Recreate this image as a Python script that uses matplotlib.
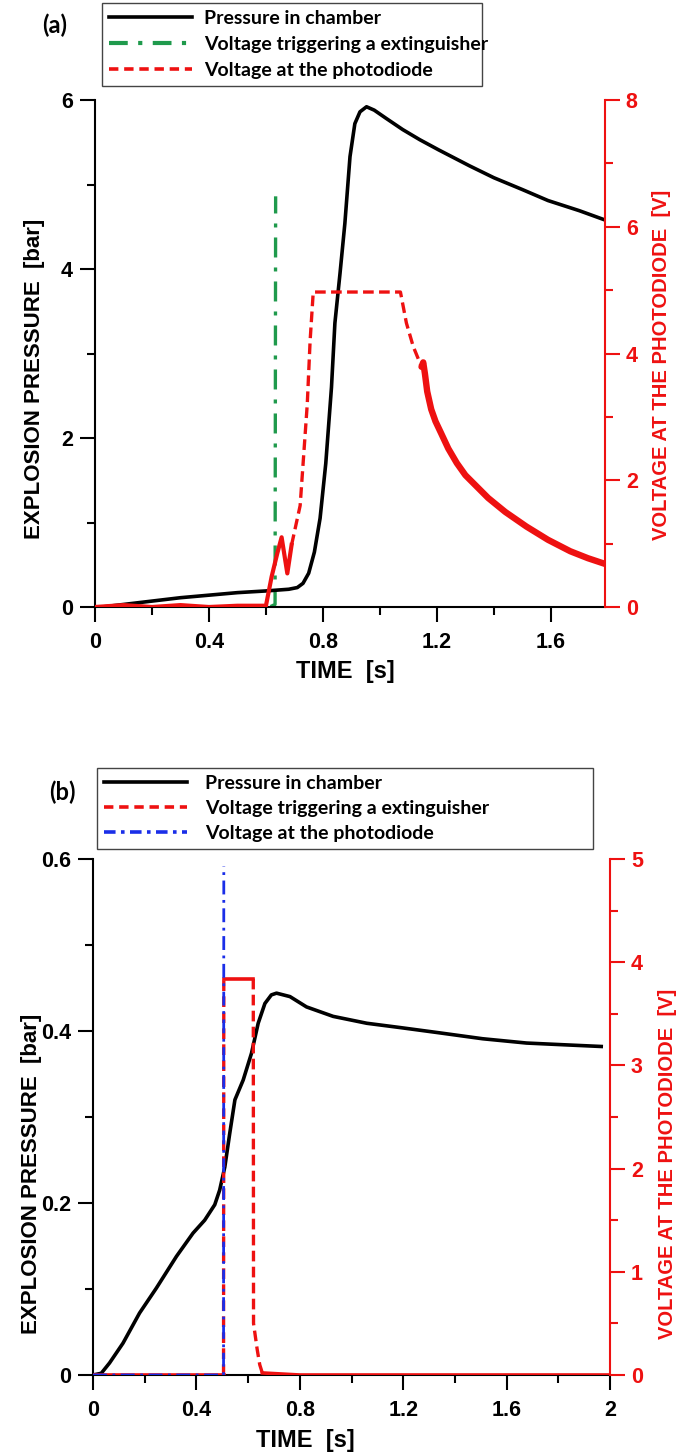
import matplotlib
matplotlib.use("Agg")
import matplotlib.pyplot as plt
from matplotlib.lines import Line2D
from matplotlib.ticker import MultipleLocator, FuncFormatter
from matplotlib import font_manager
import numpy as np

# ---------------- data (a) ----------------
t_press_a = [0, 0.1, 0.2, 0.3, 0.4, 0.5, 0.6, 0.68, 0.71, 0.73, 0.75, 0.77, 0.79, 0.81,
             0.83, 0.842, 0.86, 0.877, 0.895, 0.912, 0.93, 0.953, 0.98, 1.023, 1.08,
             1.14, 1.206, 1.315, 1.4, 1.5, 1.59, 1.7, 1.79]
p_press_a = [-0.01, 0.03, 0.07, 0.11, 0.14, 0.17, 0.19, 0.21, 0.23, 0.28, 0.4, 0.65, 1.05,
             1.7, 2.6, 3.36, 3.95, 4.54, 5.33, 5.72, 5.86, 5.92, 5.88, 5.78, 5.65,
             5.53, 5.41, 5.22, 5.08, 4.94, 4.81, 4.69, 4.58]

t_trig_a = [0, 0.2, 0.4, 0.6, 0.632, 0.634]
v_trig_a = [-0.04, -0.03, -0.02, -0.02, 0.03, 4.86]

t_diode_a = [0, 0.1, 0.2, 0.3, 0.4, 0.5, 0.6, 0.62, 0.64, 0.655, 0.675, 0.69,
             0.72, 0.745, 0.755, 0.766, 0.9, 1.0, 1.072, 1.093, 1.117, 1.146, 1.152,
             1.158, 1.166, 1.18, 1.195, 1.215, 1.24, 1.27, 1.3, 1.34, 1.38, 1.44,
             1.514, 1.59, 1.668, 1.73, 1.79]
v_diode_a = [0.0, 0.03, 0.0, 0.03, 0.0, 0.02, 0.02, 0.48, 0.85, 1.1, 0.53, 0.98,
             1.6, 3.2, 4.2, 4.97, 4.97, 4.97, 4.97, 4.48, 4.11, 3.79, 3.86,
             3.68, 3.4, 3.12, 2.93, 2.74, 2.5, 2.27, 2.08, 1.9, 1.72, 1.5,
             1.27, 1.06, 0.88, 0.77, 0.68]

# ---------------- data (b) ----------------
t_press_b = [0, 0.032, 0.064, 0.116, 0.18, 0.245, 0.323, 0.387, 0.432, 0.471, 0.49, 0.51,
             0.529, 0.549, 0.581, 0.613, 0.639, 0.665, 0.69, 0.71, 0.762, 0.826, 0.929,
             1.059, 1.188, 1.337, 1.507, 1.677, 1.82, 1.966]
p_press_b = [0, 0.002, 0.014, 0.037, 0.072, 0.101, 0.138, 0.165, 0.18, 0.198, 0.215, 0.242,
             0.281, 0.32, 0.343, 0.374, 0.409, 0.432, 0.442, 0.444, 0.44, 0.428, 0.417,
             0.409, 0.404, 0.398, 0.391, 0.386, 0.384, 0.382]

t_trig_b = [0, 0.2, 0.4, 0.505, 0.506, 0.56, 0.62, 0.621, 0.635, 0.645, 0.655, 0.8, 1.2, 1.6, 2.0]
v_trig_b = [0.0, 0.0, 0.0, 0.0, 3.84, 3.84, 3.84, 0.5, 0.25, 0.1, 0.02, 0.0, 0.0, 0.0, 0.0]

t_diode_b = [0, 0.2, 0.4, 0.505, 0.506]
v_diode_b = [0.0, 0.0, 0.0, 0.0, 4.93]

RED = "#ee1111"
GREEN = "#1f9a4c"
BLUE = "#1a2ee8"


def have_font(name):
    try:
        font_manager.findfont(name, fallback_to_default=False)
        return True
    except ValueError:
        return False


NARROW = have_font("Liberation Sans Narrow")
tick_font = ["Liberation Sans Narrow" if NARROW else "Liberation Sans", "DejaVu Sans"]
lab_font = ["Liberation Sans", "DejaVu Sans"]
leg_font = ["Lato", "DejaVu Sans"]
TICK_SIZE = 17 if NARROW else 15.5

fig = plt.figure(figsize=(6.85, 14.55), dpi=100)
ax_a = fig.add_axes([95 / 685, 1 - 607 / 1455, 510 / 685, 507 / 1455])
ax_b = fig.add_axes([93 / 685, 1 - 1375 / 1455, 517 / 685, 516 / 1455])


def fmt(v, pos):
    return "%g" % round(v, 2)


def style_axes(ax, ax2, xmax, xmaj, ymax, ymaj, ymin_, v_max, vmaj, vmin_):
    ax.set_xlim(0, xmax)
    ax.set_ylim(0, ymax)
    ax2.set_ylim(0, v_max)
    ax.xaxis.set_major_locator(MultipleLocator(xmaj))
    ax.xaxis.set_minor_locator(MultipleLocator(xmaj / 2))
    ax.yaxis.set_major_locator(MultipleLocator(ymaj))
    ax.yaxis.set_minor_locator(MultipleLocator(ymin_))
    ax2.yaxis.set_major_locator(MultipleLocator(vmaj))
    ax2.yaxis.set_minor_locator(MultipleLocator(vmin_))
    ax.xaxis.set_major_formatter(FuncFormatter(fmt))
    ax.yaxis.set_major_formatter(FuncFormatter(fmt))
    ax2.yaxis.set_major_formatter(FuncFormatter(fmt))
    for a in (ax, ax2):
        a.spines["top"].set_visible(False)
        for s in a.spines.values():
            s.set_linewidth(1.5)
    ax.spines["right"].set_visible(False)
    ax2.spines["left"].set_visible(False)
    ax2.spines["bottom"].set_visible(False)
    ax2.spines["right"].set_color(RED)
    ax.tick_params(which="major", direction="out", length=11, width=1.5, pad=5)
    ax.tick_params(axis="x", which="major", pad=7)
    ax.tick_params(which="minor", direction="out", length=6, width=1.5)
    ax2.tick_params(which="major", direction="out", length=11, width=1.5, pad=4,
                    colors=RED)
    ax2.tick_params(which="minor", direction="out", length=6, width=1.5, colors=RED)
    for lab in ax.get_xticklabels() + ax.get_yticklabels() + ax2.get_yticklabels():
        lab.set_family(tick_font)
        lab.set_fontweight("bold")
        lab.set_fontsize(TICK_SIZE)
    for lab in ax2.get_yticklabels():
        lab.set_color(RED)


# ---------------- panel (a) ----------------
ax_a2 = ax_a.twinx()
ax_a.plot(t_press_a, p_press_a, color="black", lw=2.6, zorder=3)
ax_a.plot(t_trig_a, v_trig_a, color=GREEN, lw=2.4, dashes=(6, 3, 1.2, 3), zorder=2)
t_da = np.array(t_diode_a)
v_da = np.array(v_diode_a)
m1 = t_da <= 0.69
m2 = (t_da >= 0.69) & (t_da <= 1.146)
m3 = t_da >= 1.146
ax_a2.plot(t_da[m1], v_da[m1], color=RED, lw=3.0, solid_joinstyle="round")
ax_a2.plot(t_da[m2], v_da[m2], color=RED, lw=2.4, dashes=(3.2, 1.6))
ax_a2.plot(t_da[m3], v_da[m3], color=RED, lw=4.6, solid_capstyle="round",
           solid_joinstyle="round")

style_axes(ax_a, ax_a2, 1.79, 0.4, 6, 2, 1, 8, 2, 1)

# ---------------- panel (b) ----------------
ax_b2 = ax_b.twinx()
ax_b.plot(t_press_b, p_press_b, color="black", lw=2.6, zorder=3)
ax_b2.plot(t_diode_b, v_diode_b, color=BLUE, lw=2.0, dashes=(5, 2, 1, 2), zorder=2)
t_tb = np.array(t_trig_b)
v_tb = np.array(v_trig_b)
flat_lo1 = t_tb <= 0.505
rise = (t_tb >= 0.505) & (t_tb <= 0.506)
plateau = (t_tb >= 0.506) & (t_tb <= 0.62)
drop = (t_tb >= 0.62) & (t_tb <= 0.655)
flat_lo2 = t_tb >= 0.655
for m, ls in ((flat_lo1, "solid"), (plateau, "solid"), (flat_lo2, "solid"),
              (rise, "dash"), (drop, "dash")):
    if ls == "solid":
        ax_b2.plot(t_tb[m], v_tb[m], color=RED, lw=2.6, zorder=1)
    else:
        ax_b2.plot(t_tb[m], v_tb[m], color=RED, lw=2.4, dashes=(3.2, 1.6), zorder=1)

style_axes(ax_b, ax_b2, 2.0, 0.4, 0.6, 0.2, 0.1, 5, 1, 0.5)

# ---------------- labels ----------------
if NARROW:
    rlab_family, rlab_size = ["Liberation Sans Narrow", "DejaVu Sans"], 17
else:
    rlab_family, rlab_size = lab_font, 14.5
for ax, ax2, ylc, xlc, rlc in ((ax_a, ax_a2, 0.45, 0.49, 0.477),
                               (ax_b, ax_b2, 0.39, 0.41, 0.41)):
    ax.set_ylabel("EXPLOSION PRESSURE  [bar]", fontsize=16, fontweight="bold",
                  family=lab_font)
    ax.yaxis.set_label_coords(-0.098, ylc)
    ax.set_xlabel("TIME  [s]", fontsize=17, fontweight="bold", family=lab_font)
    ax.xaxis.set_label_coords(xlc, -0.105)
    ax2.set_ylabel("VOLTAGE AT THE PHOTODIODE  [V]", fontsize=rlab_size, color=RED,
                   fontweight="bold", family=rlab_family)
    ax2.yaxis.set_label_coords(1.092, rlc)

fig.text(55 / 685, 1 - 25 / 1455, "(a)", fontsize=17, fontweight="bold",
         family=leg_font, ha="center", va="center")
fig.text(62 / 685, 1 - 792 / 1455, "(b)", fontsize=17, fontweight="bold",
         family=leg_font, ha="center", va="center")

# ---------------- legends ----------------
leg_prop = {"family": leg_font, "weight": "bold", "size": 14}
h_a = [Line2D([], [], color="black", lw=2.6),
       Line2D([], [], color=GREEN, lw=3.0, dashes=(4.5, 2.5, 1, 2.5)),
       Line2D([], [], color=RED, lw=2.6, dashes=(2.6, 1.6))]
lab_a = ["Pressure in chamber", "Voltage triggering a extinguisher",
         "Voltage at the photodiode"]
leg_a = fig.legend(h_a, lab_a, loc="upper left",
                   bbox_to_anchor=(102 / 685, 1 - 3 / 1455, 380 / 685, 0.0),
                   mode="expand", borderaxespad=0, handlelength=4.3, handletextpad=0.6,
                   labelspacing=0.47, borderpad=0.35, fancybox=False, framealpha=1,
                   edgecolor="#444444", prop=leg_prop)
leg_a.get_frame().set_linewidth(1.0)

h_b = [Line2D([], [], color="black", lw=2.6),
       Line2D([], [], color=RED, lw=2.6, dashes=(2.6, 1.6)),
       Line2D([], [], color=BLUE, lw=2.6, dashes=(3.2, 1.5, 1, 1.5))]
lab_b = ["Pressure in chamber", "Voltage triggering a extinguisher",
         "Voltage at the photodiode"]
leg_b = fig.legend(h_b, lab_b, loc="upper left",
                   bbox_to_anchor=(97 / 685, 1 - 768 / 1455, 496 / 685, 0.0),
                   mode="expand", borderaxespad=0, handlelength=4.3, handletextpad=0.9,
                   labelspacing=0.42, borderpad=0.35, fancybox=False, framealpha=1,
                   edgecolor="#444444", prop=leg_prop)
leg_b.get_frame().set_linewidth(1.0)

fig.savefig("out.png", dpi=100)
